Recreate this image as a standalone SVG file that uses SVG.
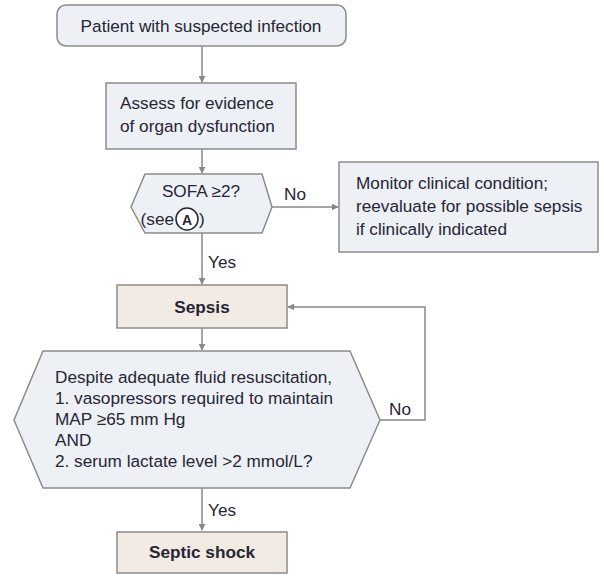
<svg xmlns="http://www.w3.org/2000/svg" width="604" height="579" viewBox="0 0 604 579">
<style>
.n{fill:#edf0f4;stroke:#8c8c8c;stroke-width:1.5}
.s{fill:#f2ebe3;stroke:#8c8c8c;stroke-width:1.5}
.t{font-family:"Liberation Sans",Arial,sans-serif;font-size:17.2px;fill:#262636}
.c{text-anchor:middle}
.r{text-anchor:end}
.b{font-weight:bold}
.e{fill:none;stroke:#888;stroke-width:1.5}
</style>
<defs>
<marker id="ah" viewBox="0 0 10 10" refX="9" refY="5" markerWidth="7" markerHeight="7" orient="auto" markerUnits="userSpaceOnUse">
<path d="M0,0 L10,5 L0,10 z" fill="#888"/>
</marker>
</defs>
<g id="connectors">
<path class="e" d="M202,46 V82" marker-end="url(#ah)"/>
<path class="e" d="M202,149 V173" marker-end="url(#ah)"/>
<path class="e" d="M272,207 H338" marker-end="url(#ah)"/>
<path class="e" d="M202,233 V284" marker-end="url(#ah)"/>
<path class="e" d="M202,328 V350" marker-end="url(#ah)"/>
<path class="e" d="M380,420 H425 V307 H288" marker-end="url(#ah)"/>
<path class="e" d="M202,488 V530" marker-end="url(#ah)"/>
<text class="t" x="284" y="200">No</text>
<text class="t" x="208" y="268">Yes</text>
<text class="t" x="389" y="415">No</text>
<text class="t" x="208" y="516">Yes</text>
</g>
<g id="start">
<rect class="n" x="57" y="5" width="289" height="41" rx="9"/>
<text class="t c" x="201" y="32">Patient with suspected infection</text>
</g>
<g id="assess">
<rect class="n" x="106" y="83" width="190" height="66"/>
<text class="t" x="120" y="109">Assess for evidence</text>
<text class="t" x="120" y="132">of organ dysfunction</text>
</g>
<g id="sofa">
<polygon class="n" points="145,174 262,174 272,207 262,233 145,233 131,207"/>
<text class="t c" x="201" y="197">SOFA ≥2?</text>
<text class="t r" x="174" y="225">(see</text>
<circle cx="187" cy="219" r="11" fill="#fff" stroke="#262636" stroke-width="1.5"/>
<text class="t c b" x="187" y="224.5" style="font-size:14px">A</text>
<text class="t" x="199" y="225">)</text>
</g>
<g id="monitor">
<rect class="n" x="339" y="162" width="259" height="90"/>
<text class="t" x="356" y="189">Monitor clinical condition;</text>
<text class="t" x="356" y="212">reevaluate for possible sepsis</text>
<text class="t" x="356" y="235">if clinically indicated</text>
</g>
<g id="sepsis">
<rect class="s" x="117" y="285" width="170" height="43"/>
<text class="t c b" x="202" y="313">Sepsis</text>
</g>
<g id="shock-criteria">
<polygon class="n" points="43,351 350,351 380,420 350,488 43,488 14,420"/>
<text class="t" x="55" y="383">Despite adequate fluid resuscitation,</text>
<text class="t" x="55" y="404">1. vasopressors required to maintain</text>
<text class="t" x="55" y="425">MAP ≥65 mm Hg</text>
<text class="t" x="55" y="446">AND</text>
<text class="t" x="55" y="467">2. serum lactate level &gt;2 mmol/L?</text>
</g>
<g id="septic-shock">
<rect class="s" x="117" y="532" width="170" height="41"/>
<text class="t c b" x="202" y="558">Septic shock</text>
</g>
</svg>
